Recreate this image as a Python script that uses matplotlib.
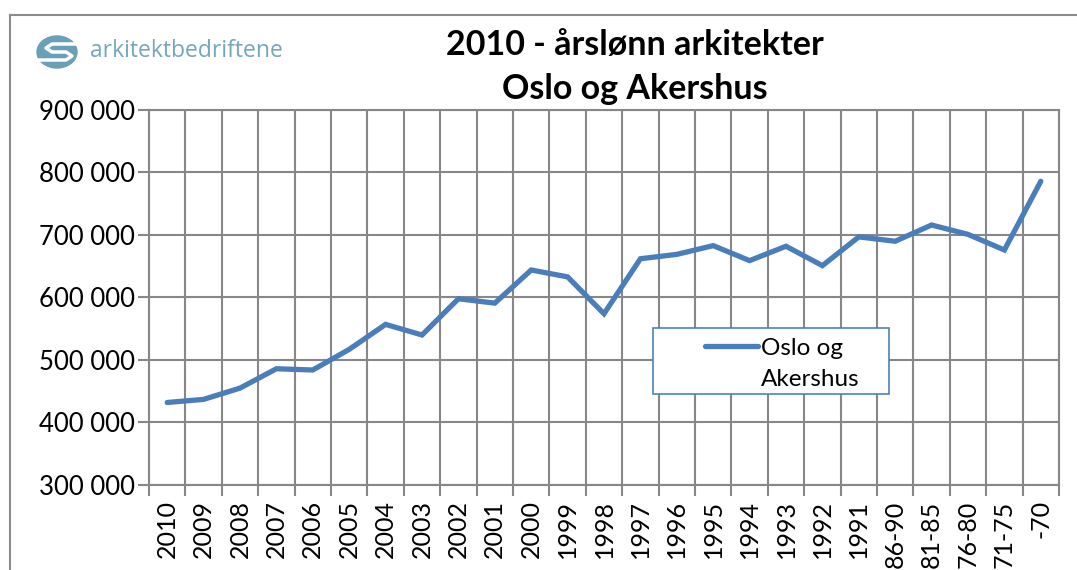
import matplotlib
matplotlib.use("Agg")
import matplotlib.pyplot as plt
from matplotlib.patches import Ellipse, Rectangle
from matplotlib.lines import Line2D
from matplotlib.ticker import FuncFormatter, FixedLocator

# data
kategorier = ["2010", "2009", "2008", "2007", "2006", "2005", "2004", "2003", "2002",
              "2001", "2000", "1999", "1998", "1997", "1996", "1995", "1994", "1993",
              "1992", "1991", "86-90", "81-85", "76-80", "71-75", "-70"]
lonn = [432000, 437000, 455000, 486000, 484000, 517000, 557000, 540000, 598000,
        591000, 644000, 633000, 574000, 662000, 669000, 683000, 659000, 682000,
        651000, 697000, 690000, 716000, 701000, 676000, 786000]
serie_navn = "Oslo og Akershus"

plt.rcParams['font.family'] = ['Lato', 'DejaVu Sans']
blue = "#4A7EBB"
grid_col = "#878787"

fig = plt.figure(figsize=(10.77, 5.70), dpi=100)
W, H = 1077, 570

def fx(px):
    return px / W

def fy(py):
    return 1 - py / H

# outer chart border
fig.add_artist(Line2D([fx(10), fx(10)], [fy(15), 0], color="#8c8c8c", lw=1.5))
fig.add_artist(Line2D([fx(10), 1], [fy(15), fy(15)], color="#8c8c8c", lw=1.5))

# logo
logo_col = "#6A9FB8"
fig.add_artist(Ellipse((fx(57), fy(52)), 40 / W, 32 / H, color=logo_col))
fig.add_artist(Line2D([fx(80), fx(52), fx(46), fx(52), fx(66), fx(72), fx(66), fx(38)],
                      [fy(44), fy(44), fy(48), fy(52), fy(52), fy(56), fy(60), fy(60)],
                      color="white", lw=2.5, solid_capstyle="butt"))
fig.text(fx(90), fy(51), "arkitektbedriftene", color="#74A6BC", fontsize=16.5,
         va="center", ha="left", family=["Open Sans", "DejaVu Sans"])

# title
fig.text(fx(635), fy(45), "2010 - årslønn arkitekter", ha="center", va="center",
         fontsize=24.5, fontweight="bold")
fig.text(fx(635), fy(89), "Oslo og Akershus", ha="center", va="center",
         fontsize=24.5, fontweight="bold")

ax = fig.add_axes([fx(149), fy(485), (1059 - 149) / W, (485 - 110) / H])
x = list(range(len(kategorier)))
ax.plot(x, lonn, color=blue, lw=3.8, solid_capstyle="round", solid_joinstyle="miter")

ax.set_xlim(-0.5, len(kategorier) - 0.5)
ax.set_ylim(300000, 900000)
ax.set_yticks(range(300000, 900001, 100000))
ax.yaxis.set_major_formatter(FuncFormatter(lambda v, p: f"{int(v):,}".replace(",", " ")))
ax.set_xticks(x)
ax.set_xticklabels(kategorier, rotation=90)
ax.xaxis.set_minor_locator(FixedLocator([i - 0.5 for i in range(len(kategorier) + 1)]))

ax.grid(True, which="major", axis="y", color=grid_col, lw=1.5)
ax.grid(True, which="minor", axis="x", color=grid_col, lw=1.5)
ax.set_axisbelow(True)
ax.tick_params(axis="x", which="major", length=0, labelsize=18, pad=11)
ax.tick_params(axis="x", which="minor", length=8, width=1.5, color=grid_col)
ax.tick_params(axis="y", length=8, width=1.5, color=grid_col, labelsize=18.5, pad=2)
for s in ax.spines.values():
    s.set_color(grid_col)
    s.set_linewidth(1.5)

# legend
ax.add_patch(Rectangle((0.554, 0.243), 0.259, 0.176, transform=ax.transAxes,
                       facecolor="white", edgecolor="#4F81BD", lw=1.2, zorder=5))
h1 = Line2D([], [], color=blue, lw=3.8, solid_capstyle="round")
h2 = Line2D([], [], color="none")
navn = serie_navn.split(" ", 2)
leg = ax.legend([h1, h2], [navn[0] + " " + navn[1], navn[2]],
                loc="upper left", bbox_to_anchor=(0.6, 0.418), frameon=False,
                fontsize=17.5, handlelength=2.2, handletextpad=0.12,
                labelspacing=0.4, borderaxespad=0)
leg.set_zorder(6)

fig.savefig("out.png", dpi=100)
